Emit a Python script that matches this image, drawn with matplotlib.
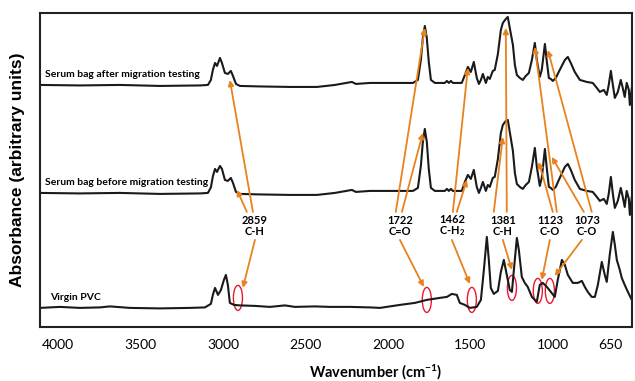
import matplotlib
matplotlib.use('Agg')
import matplotlib.pyplot as plt
from matplotlib.patches import Ellipse

plt.rcParams['font.family'] = ['Lato', 'DejaVu Sans']
plt.rcParams['mathtext.default'] = 'regular'

# wavenumber grid shared by the two serum bag spectra (cm-1)
wn_serum = [4109, 3867, 3624, 3382, 3139, 3091, 3073, 3061, 3048, 3036,
            3018, 3006, 2988, 2970, 2952, 2939, 2921, 2897, 2776, 2594,
            2430, 2321, 2218, 2194, 2109, 2048, 1927, 1848, 1818, 1800,
            1788, 1776, 1764, 1752, 1739, 1715, 1655, 1642, 1630, 1618,
            1606, 1552, 1533, 1515, 1497, 1479, 1461, 1448, 1436, 1424,
            1406, 1394, 1382, 1364, 1352, 1333, 1315, 1303, 1285, 1273,
            1261, 1242, 1230, 1218, 1200, 1182, 1164, 1145, 1127, 1109,
            1097, 1079, 1067, 1048, 1036, 1024, 1012, 1000, 982, 958,
            927, 909, 891, 867, 836, 794, 758, 733, 715, 691,
            673, 661, 648, 636, 624, 606, 588, 576, 564, 552,
            539, 533, 521]
abs_after = [242, 241.5, 242, 241, 241.5, 242, 247, 257, 264, 261,
             269, 264, 254, 253, 256, 251, 243, 241, 240.5, 240,
             240, 242, 245, 243, 244, 244, 244, 244, 247, 267,
             289, 301, 289, 265, 247, 244, 244, 246, 244, 246,
             244, 244, 252, 260, 255, 265, 249, 243, 247, 253,
             244, 250, 248, 256, 257, 273, 297, 304, 308, 310,
             299, 282, 262, 252, 249, 247, 251, 254, 267, 284,
             267, 250, 257, 283, 265, 249, 248, 246, 249, 257,
             267, 270, 264, 255, 247, 245, 244, 239, 235, 237,
             232, 242, 256, 242, 229, 235, 247, 239, 230, 244,
             237, 222, 239]
abs_before = [134, 133.5, 134, 133, 133.5, 134, 139.5, 150.5, 158, 155,
              161, 158, 147, 146, 149, 144, 135, 133, 132.5, 132,
              132, 134, 137, 135, 136, 136, 136, 136, 139, 161,
              185, 198, 185, 158, 139, 136, 136, 138, 136, 138,
              136, 136, 145, 152, 148, 157, 140, 134, 139, 145,
              136, 142, 140, 149, 150, 168, 194, 202, 206, 207,
              195, 176, 154, 143, 140, 138, 142, 145, 160, 179,
              160, 141, 149, 178, 158, 140, 139, 137, 140, 149,
              160, 163, 157, 147, 138, 136, 135, 130, 126, 128,
              123, 133, 150, 133, 119, 126, 139, 130, 120, 136,
              128, 112, 130]

# virgin PVC
wn_pvc = [4109, 3988, 3867, 3745, 3685, 3564, 3382, 3200, 3109, 3073,
          3061, 3048, 3030, 3012, 2994, 2982, 2970, 2958, 2933, 2897,
          2806, 2715, 2624, 2564, 2442, 2352, 2230, 2109, 2048, 1927,
          1836, 1764, 1685, 1642, 1612, 1582, 1564, 1533, 1503, 1461,
          1436, 1418, 1400, 1388, 1376, 1358, 1333, 1315, 1297, 1279,
          1261, 1248, 1236, 1218, 1206, 1188, 1170, 1152, 1127, 1097,
          1079, 1061, 1036, 1012, 988, 970, 945, 927, 909, 879,
          848, 824, 806, 788, 764, 745, 727, 703, 685, 673,
          655, 636, 624, 612, 594, 582, 564, 545, 521]
abs_pvc = [19, 20, 19, 19.5, 20.5, 19, 18.5, 19, 19.5, 23,
           32, 39, 32, 37, 47, 52, 42, 24, 22, 21.5,
           21, 20, 21.5, 20, 20.5, 20, 20, 19.5, 19, 22,
           24, 27, 29, 30, 33, 32, 24, 22, 19, 20,
           27, 57, 90, 67, 39, 33, 36, 55, 67, 52,
           37, 35, 57, 89, 77, 50, 44, 40, 30, 25,
           42, 44, 40, 35, 30, 47, 67, 62, 52, 44,
           44, 46, 40, 35, 30, 30, 42, 65, 52, 45,
           72, 95, 82, 67, 57, 49, 42, 35, 27]

xticks = [4000, 3500, 3000, 2500, 2000, 1500, 1000, 650]

# band labels
band_nums = ['2859', '1722', '1462', '1381', '1123', '1073']
band_names = ['C-H', 'C=O', 'C-H$_2$', 'C-H', 'C-O', 'C-O']
label_x = [2806, 1927, 1612, 1303, 1018, 794]
# arrow tails (near the label) and heads, for top, middle and bottom spectra
tail_top = [2818, 1952, 1606, 1279, 976, 764]
head_top = [(2958, 247), (1776, 299), (1515, 259), (1285, 299), (1109, 280), (1030, 277)]
tail_mid = [2855, 1915, 1582, 1358, 1000, 812]
head_mid = [(2915, 137), (1788, 194), (1521, 147), (1303, 190), (1085, 165), (1006, 170)]
tail_low = [2806, 1927, 1612, 1303, 1018, 824]
head_low = [(2879, 39), (1782, 40), (1503, 43), (1248, 57), (1067, 47), (988, 51)]
# red circles on the PVC spectrum
circ_x = [2909, 1764, 1491, 1248, 1091, 1018]
circ_y = [29, 27, 27, 39, 36, 36]

orange = '#e8821e'

fig = plt.figure(figsize=(6.35, 3.81), dpi=100)
ax = fig.add_axes([0.063, 0.142, 0.932, 0.824])

ax.plot(wn_serum, abs_after, color='#1a1a1a', lw=1.5)
ax.plot(wn_serum, abs_before, color='#1a1a1a', lw=1.5)
ax.plot(wn_pvc, abs_pvc, color='#1a1a1a', lw=1.5)

ax.text(4079, 252, 'Serum bag after migration testing', fontsize=7.5, fontweight='bold', va='center')
ax.text(4079, 144, 'Serum bag before migration testing', fontsize=7.5, fontweight='bold', va='center')
ax.text(4048, 29, 'Virgin PVC', fontsize=7.5, fontweight='bold', va='center')

for i in range(len(band_nums)):
    ax.text(label_x[i], 101, band_nums[i] + '\n' + band_names[i], fontsize=8,
            fontweight='bold', ha='center', va='center', linespacing=1.0)
    ap = dict(arrowstyle='-|>', color=orange, lw=1.3, mutation_scale=8, shrinkA=0, shrinkB=0)
    ax.annotate('', xy=head_top[i], xytext=(tail_top[i], 115), arrowprops=ap)
    ax.annotate('', xy=head_mid[i], xytext=(tail_mid[i], 115), arrowprops=ap)
    ax.annotate('', xy=head_low[i], xytext=(tail_low[i], 87), arrowprops=ap)
    ax.add_patch(Ellipse((circ_x[i], circ_y[i]), 55, 25, fill=False, ec='#e8192c', lw=1.0))

ax.set_xlim(4109, 521)
ax.set_ylim(0, 314)
ax.set_xticks(xticks)
ax.set_xticklabels([str(t) for t in xticks])
ax.set_yticks([])
ax.tick_params(axis='x', length=0, pad=9, labelsize=10)
for s in ax.spines.values():
    s.set_linewidth(1.5)
    s.set_color('#222222')

ax.set_xlabel('Wavenumber (cm$^{-1}$)', fontsize=10.5, fontweight='bold')
ax.xaxis.set_label_coords(0.568, -0.115)
ax.set_ylabel('Absorbance (arbitrary units)', fontsize=12.5, fontweight='bold',
              family=['Liberation Sans', 'DejaVu Sans'])
ax.yaxis.set_label_coords(-0.025, 0.5)

plt.savefig('out.png', dpi=100)
